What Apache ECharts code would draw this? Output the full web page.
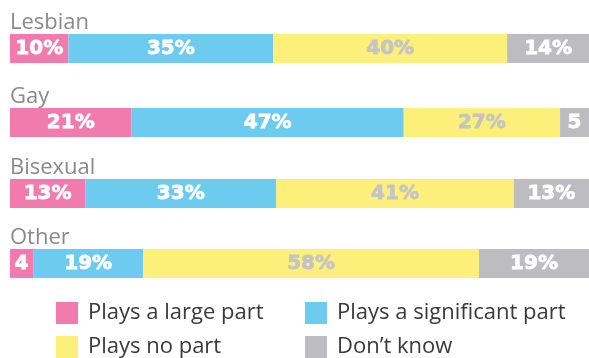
<!DOCTYPE html>
<html>
<head>
<meta charset="utf-8">
<style>
  html, body { margin: 0; padding: 0; background: #ffffff; }
  #chart { width: 589px; height: 358px; }
</style>
<script src="https://cdn.jsdelivr.net/npm/echarts@6/dist/echarts.min.js"></script>
</head>
<body>
<div id="chart"></div>
<script>
// Groups shown as separate stacked rows
const groups = ['Lesbian', 'Gay', 'Bisexual', 'Other'];

// Response categories
const answers = ['Plays a large part', 'Plays a significant part', 'Plays no part', 'Don\u2019t know'];

// Share of each answer (%) per group, in the order of `groups`
const largePart       = [10, 21, 13, 4];
const significantPart = [35, 47, 33, 19];
const noPart          = [40, 27, 41, 58];
const dontKnow        = [14, 5, 13, 19];

const values = [largePart, significantPart, noPart, dontKnow];
const colors = ['#f27bae', '#6dcbef', '#fdf07a', '#bdbdc1'];
const labelColors = ['#ffffff', '#ffffff', '#c4c4c4', '#ffffff'];

// Row placement (top edge of each bar)
const rowTops = [34, 108, 179, 249];
const barHeight = 29;

const grids = [], xAxes = [], yAxes = [], series = [];
groups.forEach((g, gi) => {
  grids.push({ left: 10, right: 0, top: rowTops[gi], height: barHeight });
  const total = values.reduce((s, arr) => s + arr[gi], 0);
  xAxes.push({ gridIndex: gi, type: 'value', min: 0, max: total, show: false });
  yAxes.push({
    gridIndex: gi, type: 'category', data: [g],
    axisLine: { show: false }, axisTick: { show: false }, axisLabel: { show: false },
    splitLine: { show: false },
    name: g, nameLocation: 'end', nameGap: 0,
    nameTextStyle: {
      align: 'left', verticalAlign: 'bottom',
      fontFamily: 'Open Sans', fontSize: 22, color: '#8a8a8a'
    }
  });
  answers.forEach((a, ai) => {
    series.push({
      name: a, type: 'bar', stack: 'row' + gi,
      xAxisIndex: gi, yAxisIndex: gi,
      barWidth: barHeight,
      itemStyle: { color: colors[ai] },
      label: {
        show: true, position: 'inside',
        color: labelColors[ai],
        fontFamily: 'DejaVu Sans', fontWeight: 'bold', fontSize: 20,
        textBorderColor: labelColors[ai], textBorderWidth: 0.8,
        formatter: p => p.value >= 10 ? p.value + '%' : String(p.value)
      },
      emphasis: { disabled: true },
      data: [values[ai][gi]]
    });
  });
});

// Legend: one component per entry, laid out as a 2 x 2 block
const legendSlots = [
  { left: 56, top: 302 },   // Plays a large part
  { left: 305, top: 302 },  // Plays a significant part
  { left: 56, top: 336 },   // Plays no part
  { left: 305, top: 336 }   // Don't know
];
const legends = answers.map((a, ai) => ({
  left: legendSlots[ai].left, top: legendSlots[ai].top,
  padding: 0,
  itemWidth: 22, itemHeight: 22,
  icon: 'rect',
  selectedMode: false,
  textStyle: { fontFamily: 'Open Sans', fontSize: 22, color: '#3a3a3a', padding: [0, 0, 0, 5] },
  data: [a]
}));

const chart = echarts.init(document.getElementById('chart'), null, { renderer: 'canvas' });
chart.setOption({
  animation: false,
  grid: grids,
  xAxis: xAxes,
  yAxis: yAxes,
  legend: legends,
  series: series
});
</script>
</body>
</html>
